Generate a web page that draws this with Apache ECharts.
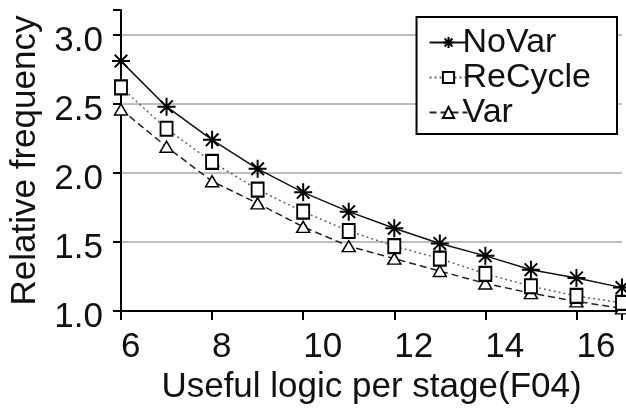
<!DOCTYPE html>
<html>
<head>
<meta charset="utf-8">
<script src="https://cdn.jsdelivr.net/npm/echarts@6/dist/echarts.min.js"></script>
<style>
  html, body { margin: 0; padding: 0; background: #fff; }
  #chart { width: 626px; height: 410px; }
</style>
</head>
<body>
<div id="chart"></div>
<script>
'use strict';

// useful logic per stage (FO4)
var stages = [6, 7, 8, 9, 10, 11, 12, 13, 14, 15, 16, 17];
var noVar   = [2.81, 2.48, 2.24, 2.03, 1.86, 1.72, 1.60, 1.49, 1.40, 1.30, 1.24, 1.17];
var reCycle = [2.62, 2.32, 2.08, 1.88, 1.72, 1.58, 1.47, 1.38, 1.27, 1.18, 1.11, 1.06];
var varData = [2.46, 2.19, 1.94, 1.78, 1.61, 1.47, 1.38, 1.29, 1.20, 1.13, 1.07, 1.02];
var xTicks = [6, 8, 10, 12, 14, 16];
var yTicks = [1.0, 1.5, 2.0, 2.5, 3.0];

var FONT = "'Liberation Sans', Arial, sans-serif";
var STAR = 'path://M0,-10L0,10M-10,0L10,0M-7,-7L7,7M-7,7L7,-7';

function pairs(ys) {
    var out = [];
    for (var i = 0; i < stages.length; i++) {
        out.push([stages[i], ys[i]]);
    }
    return out;
}

var my_chart = echarts.init(document.getElementById('chart'));

my_chart.setOption({
    animation: false,
    backgroundColor: '#fff',
    textStyle: { fontFamily: FONT },
    grid: {
        left: 121,
        right: 4,
        top: 10,
        bottom: 97,
        containLabel: false
    },
    legend: {
        right: 9,
        top: 17,
        orient: 'vertical',
        align: 'left',
        backgroundColor: '#fff',
        borderColor: '#000',
        borderWidth: 2,
        borderRadius: 0,
        padding: [8, 26, 4, 12],
        itemGap: 0,
        itemWidth: 38,
        itemHeight: 14,
        textStyle: {
            fontFamily: FONT,
            fontSize: 34,
            color: '#111',
            padding: [0, 0, 0, -10],
            lineHeight: 35
        },
        data: ['NoVar', 'ReCycle', 'Var']
    },
    xAxis: {
        type: 'value',
        min: 6,
        max: 17,
        interval: 2,
        name: 'Useful logic per stage(F04)',
        nameLocation: 'middle',
        nameGap: 57,
        nameTextStyle: { fontFamily: FONT, fontSize: 35, color: '#111' },
        axisLine: { show: true, onZero: false, lineStyle: { color: '#000', width: 2 } },
        axisTick: { show: true, length: 9, lineStyle: { color: '#000', width: 2 } },
        axisLabel: {
            customValues: xTicks,
            margin: 19,
            align: 'left',
            fontFamily: FONT,
            fontSize: 35,
            color: '#111'
        },
        splitLine: { show: false }
    },
    yAxis: {
        type: 'value',
        min: 1.0,
        max: 3.18,
        interval: 0.5,
        name: 'Relative frequency',
        nameLocation: 'middle',
        nameGap: 78,
        nameTextStyle: { fontFamily: FONT, fontSize: 35, color: '#111' },
        axisLine: { show: true, lineStyle: { color: '#000', width: 2 } },
        axisTick: { show: true, length: 8, lineStyle: { color: '#000', width: 2 } },
        axisLabel: {
            customValues: yTicks,
            margin: 18,
            verticalAlign: 'top',
            lineHeight: 12,
            fontFamily: FONT,
            fontSize: 35,
            color: '#111',
            formatter: function (v) { return v.toFixed(1); }
        },
        splitLine: {
            show: true,
            showMinLine: false,
            showMaxLine: false,
            lineStyle: { color: '#bdbdbd', width: 2 }
        }
    },
    series: [
        {
            name: 'NoVar',
            type: 'line',
            smooth: false,
            clip: false,
            symbol: STAR,
            symbolSize: 18,
            lineStyle: { color: '#111', width: 1.5, type: 'solid' },
            itemStyle: { color: '#000', borderColor: '#000', borderWidth: 2 },
            data: pairs(noVar),
            z: 4
        },
        {
            name: 'ReCycle',
            type: 'line',
            clip: false,
            symbol: 'rect',
            symbolSize: [12, 14],
            lineStyle: { color: '#666', width: 1.5, type: [2, 3] },
            itemStyle: { color: '#fff', borderColor: '#000', borderWidth: 2 },
            data: pairs(reCycle),
            z: 3
        },
        {
            name: 'Var',
            type: 'line',
            clip: false,
            symbol: 'triangle',
            symbolSize: [13, 11],
            lineStyle: { color: '#222', width: 1.5, type: [7, 4] },
            itemStyle: { color: '#fff', borderColor: '#000', borderWidth: 1.5 },
            data: pairs(varData),
            z: 2
        }
    ]
});
</script>
</body>
</html>
